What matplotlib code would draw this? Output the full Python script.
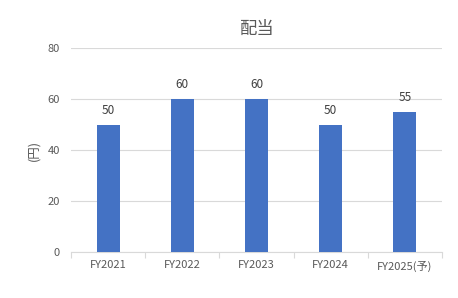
import matplotlib
matplotlib.use("Agg")
import matplotlib.pyplot as plt
import numpy as np

plt.rcParams['font.family'] = ['Noto Sans CJK JP', 'DejaVu Sans']

# ─── Data ────────────────────────────────────────────────────────────────────
years = ["FY2021", "FY2022", "FY2023", "FY2024", "FY2025(予)"]
dividends = [50, 60, 60, 50, 55]
y_ticks = [0, 20, 40, 60, 80]

BAR_COLOR = "#4472C4"
TEXT_COLOR = "#595959"
GRID_COLOR = "#D9D9D9"

fig = plt.figure(figsize=(4.58, 2.98), dpi=100)
ax = fig.add_axes([0.155, 0.154, 0.81, 0.685])

x = np.arange(len(years))
ax.bar(x, dividends, width=0.31, color=BAR_COLOR, zorder=3)
for xi, v in zip(x, dividends):
    ax.text(xi, v + 3, f"{v}", ha="center", va="bottom",
            fontsize=8.5, color="#404040")

ax.set_xlim(-0.5, len(years) - 0.5)
ax.set_ylim(0, 80)
ax.set_yticks(y_ticks)
ax.set_xticks(x)
ax.set_xticklabels(years)
ax.set_xticks(np.arange(len(years) + 1) - 0.5, minor=True)

ax.grid(axis="y", color=GRID_COLOR, linewidth=0.8, zorder=0)
for s in ["top", "right", "left"]:
    ax.spines[s].set_visible(False)
ax.spines["bottom"].set_color(GRID_COLOR)
ax.spines["bottom"].set_linewidth(0.8)

ax.tick_params(axis="y", length=0, labelsize=8, labelcolor=TEXT_COLOR, pad=8)
ax.tick_params(axis="x", which="major", length=0, labelsize=8,
               labelcolor=TEXT_COLOR, pad=6)
ax.tick_params(axis="x", which="minor", length=4, color=GRID_COLOR, width=0.8)

ax.set_ylabel("(円)", fontsize=9, color=TEXT_COLOR, labelpad=5)
ax.set_title("配当", fontsize=12.5, color=TEXT_COLOR, pad=10)

fig.savefig("out.png", dpi=100)
